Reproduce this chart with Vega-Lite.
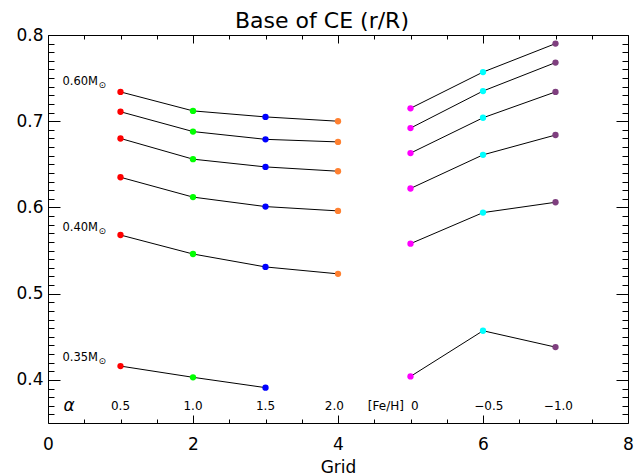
{
  "$schema": "https://vega.github.io/schema/vega-lite/v6.json",
  "width": 580,
  "height": 388,
  "autosize": {"type": "none"},
  "padding": {"left": 48, "top": 35, "right": 16, "bottom": 53},
  "title": {"text": "Base of CE (r/R)", "fontSize": 22, "font": "DejaVu Sans", "fontWeight": "normal", "offset": -7, "dx": -16, "color": "black"},
  "config": {
    "view": {"stroke": "black", "strokeWidth": 1},
    "axis": {"domain": false, "grid": false, "tickColor": "black", "labelColor": "black", "labelFont": "DejaVu Sans", "titleFont": "DejaVu Sans", "titleFontWeight": "normal", "titleColor": "black"}
  },
  "datasets": {
    "pts": [
      {"grid": 1, "value": 0.734, "series": "L1"}, {"grid": 2, "value": 0.712, "series": "L1"}, {"grid": 3, "value": 0.705, "series": "L1"}, {"grid": 4, "value": 0.700, "series": "L1"},
      {"grid": 1, "value": 0.711, "series": "L2"}, {"grid": 2, "value": 0.688, "series": "L2"}, {"grid": 3, "value": 0.679, "series": "L2"}, {"grid": 4, "value": 0.676, "series": "L2"},
      {"grid": 1, "value": 0.680, "series": "L3"}, {"grid": 2, "value": 0.656, "series": "L3"}, {"grid": 3, "value": 0.647, "series": "L3"}, {"grid": 4, "value": 0.642, "series": "L3"},
      {"grid": 1, "value": 0.635, "series": "L4"}, {"grid": 2, "value": 0.612, "series": "L4"}, {"grid": 3, "value": 0.601, "series": "L4"}, {"grid": 4, "value": 0.596, "series": "L4"},
      {"grid": 1, "value": 0.568, "series": "L5"}, {"grid": 2, "value": 0.546, "series": "L5"}, {"grid": 3, "value": 0.531, "series": "L5"}, {"grid": 4, "value": 0.523, "series": "L5"},
      {"grid": 1, "value": 0.416, "series": "L6"}, {"grid": 2, "value": 0.403, "series": "L6"}, {"grid": 3, "value": 0.391, "series": "L6"},
      {"grid": 5, "value": 0.715, "series": "R1"}, {"grid": 6, "value": 0.757, "series": "R1"}, {"grid": 7, "value": 0.790, "series": "R1"},
      {"grid": 5, "value": 0.692, "series": "R2"}, {"grid": 6, "value": 0.735, "series": "R2"}, {"grid": 7, "value": 0.768, "series": "R2"},
      {"grid": 5, "value": 0.663, "series": "R3"}, {"grid": 6, "value": 0.704, "series": "R3"}, {"grid": 7, "value": 0.734, "series": "R3"},
      {"grid": 5, "value": 0.622, "series": "R4"}, {"grid": 6, "value": 0.661, "series": "R4"}, {"grid": 7, "value": 0.684, "series": "R4"},
      {"grid": 5, "value": 0.558, "series": "R5"}, {"grid": 6, "value": 0.594, "series": "R5"}, {"grid": 7, "value": 0.606, "series": "R5"},
      {"grid": 5, "value": 0.404, "series": "R6"}, {"grid": 6, "value": 0.457, "series": "R6"}, {"grid": 7, "value": 0.438, "series": "R6"}
    ],
    "rowlabels": [
      {"text": "0.5", "x": 1, "y": 0.3695},
      {"text": "1.0", "x": 2, "y": 0.3695},
      {"text": "1.5", "x": 3, "y": 0.3695},
      {"text": "2.0", "x": 3.95, "y": 0.3695},
      {"text": "[Fe/H]", "x": 4.66, "y": 0.3695},
      {"text": "0", "x": 5.06, "y": 0.3695},
      {"text": "−0.5", "x": 6.08, "y": 0.3695},
      {"text": "−1.0", "x": 7.04, "y": 0.3695}
    ],
    "alpha": [{"text": "α", "x": 0.29, "y": 0.3695}],
    "mass": [
      {"text": "0.60M", "x": 0.2, "y": 0.7455},
      {"text": "0.40M", "x": 0.2, "y": 0.576},
      {"text": "0.35M", "x": 0.2, "y": 0.425}
    ]
  },
  "resolve": {"axis": {"x": "independent", "y": "independent"}, "scale": {"x": "shared", "y": "shared"}},
  "layer": [
    {
      "data": {"name": "pts"},
      "mark": {"type": "line", "color": "black", "strokeWidth": 1},
      "encoding": {
        "x": {"field": "grid", "type": "quantitative", "scale": {"domain": [0, 8], "nice": false, "zero": false},
              "axis": {"orient": "bottom", "values": [0, 2, 4, 6, 8], "tickSize": -8, "labelPadding": 21, "labelFontSize": 17, "title": "Grid", "titleFontSize": 17, "titlePadding": 7, "labelFlush": false}},
        "y": {"field": "value", "type": "quantitative", "scale": {"domain": [0.35, 0.8], "nice": false, "zero": false},
              "axis": {"orient": "left", "values": [0.4, 0.5, 0.6, 0.7, 0.8], "format": ".1f", "tickSize": -12, "labelPadding": 17, "labelFontSize": 17, "title": null}},
        "detail": {"field": "series"}
      }
    },
    {
      "data": {"name": "pts"},
      "mark": {"type": "circle", "size": 40, "opacity": 1},
      "encoding": {
        "x": {"field": "grid", "type": "quantitative",
              "axis": {"orient": "top", "values": [0, 2, 4, 6, 8], "tickSize": -8, "labels": false, "title": null}},
        "y": {"field": "value", "type": "quantitative",
              "axis": {"orient": "right", "values": [0.4, 0.5, 0.6, 0.7, 0.8], "tickSize": -12, "labels": false, "title": null}},
        "color": {"field": "grid", "type": "nominal", "legend": null,
                  "scale": {"domain": [1, 2, 3, 4, 5, 6, 7], "range": ["#ff0000", "#00ff00", "#0000ff", "#ff8030", "#ff00ff", "#00ffff", "#7f3f7f"]}}
      }
    },
    {
      "data": {"name": "rowlabels"},
      "mark": {"type": "text", "fontSize": 12, "font": "DejaVu Sans", "color": "black", "align": "center", "baseline": "middle"},
      "encoding": {
        "x": {"field": "x", "type": "quantitative",
              "axis": {"orient": "bottom", "values": [0.5, 1, 1.5, 2.5, 3, 3.5, 4.5, 5, 5.5, 6.5, 7, 7.5], "tickSize": -4, "labels": false, "title": null}},
        "y": {"field": "y", "type": "quantitative",
              "axis": {"orient": "left", "values": [0.36, 0.37, 0.38, 0.39, 0.41, 0.42, 0.43, 0.44, 0.45, 0.46, 0.47, 0.48, 0.49, 0.51, 0.52, 0.53, 0.54, 0.55, 0.56, 0.57, 0.58, 0.59, 0.61, 0.62, 0.63, 0.64, 0.65, 0.66, 0.67, 0.68, 0.69, 0.71, 0.72, 0.73, 0.74, 0.75, 0.76, 0.77, 0.78, 0.79], "tickSize": -6, "labels": false, "title": null}},
        "text": {"field": "text"}
      }
    },
    {
      "data": {"name": "mass"},
      "mark": {"type": "text", "fontSize": 11.5, "font": "DejaVu Sans", "color": "black", "align": "left", "baseline": "middle"},
      "encoding": {
        "x": {"field": "x", "type": "quantitative",
              "axis": {"orient": "top", "values": [0.5, 1, 1.5, 2.5, 3, 3.5, 4.5, 5, 5.5, 6.5, 7, 7.5], "tickSize": -4, "labels": false, "title": null}},
        "y": {"field": "y", "type": "quantitative",
              "axis": {"orient": "right", "values": [0.36, 0.37, 0.38, 0.39, 0.41, 0.42, 0.43, 0.44, 0.45, 0.46, 0.47, 0.48, 0.49, 0.51, 0.52, 0.53, 0.54, 0.55, 0.56, 0.57, 0.58, 0.59, 0.61, 0.62, 0.63, 0.64, 0.65, 0.66, 0.67, 0.68, 0.69, 0.71, 0.72, 0.73, 0.74, 0.75, 0.76, 0.77, 0.78, 0.79], "tickSize": -6, "labels": false, "title": null}},
        "text": {"field": "text"}
      }
    },
    {
      "data": {"name": "mass"},
      "mark": {"type": "text", "fontSize": 9, "font": "DejaVu Sans", "color": "black", "align": "left", "baseline": "middle", "dx": 36, "dy": 3},
      "encoding": {
        "x": {"field": "x", "type": "quantitative", "axis": null},
        "y": {"field": "y", "type": "quantitative", "axis": null},
        "text": {"value": "⊙"}
      }
    },
    {
      "data": {"name": "alpha"},
      "mark": {"type": "text", "fontSize": 17, "font": "DejaVu Sans", "fontStyle": "italic", "color": "black", "align": "center", "baseline": "middle"},
      "encoding": {
        "x": {"field": "x", "type": "quantitative", "axis": null},
        "y": {"field": "y", "type": "quantitative", "axis": null},
        "text": {"field": "text"}
      }
    }
  ]
}
